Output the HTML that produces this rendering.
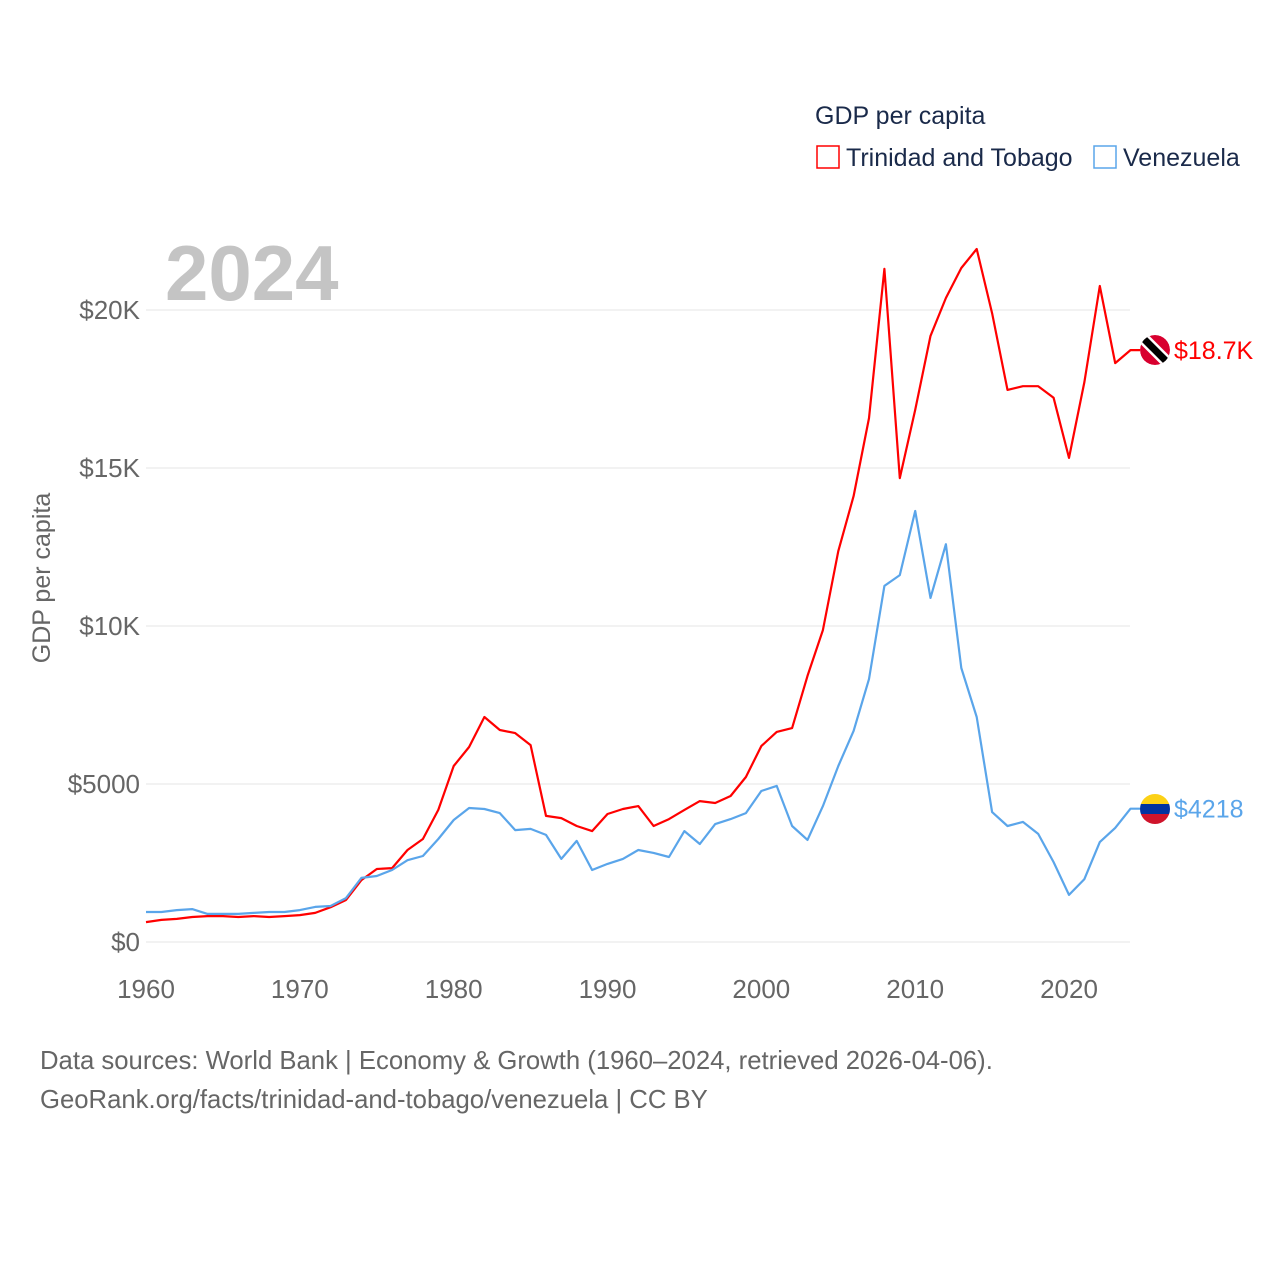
<!DOCTYPE html>
<html><head><meta charset="utf-8">
<style>
html,body{margin:0;padding:0;background:#fff;}
body{width:1280px;height:1280px;overflow:hidden;font-family:"Liberation Sans",sans-serif;}
svg text{font-family:"Liberation Sans",sans-serif;}
</style></head>
<body>
<svg id="chart" width="1280" height="1280" xmlns="http://www.w3.org/2000/svg">
<defs>
<clipPath id="c1"><circle cx="1155" cy="350" r="15"/></clipPath>
<clipPath id="c2"><circle cx="1155" cy="809" r="15"/></clipPath>
</defs>
<g id="grid"></g>
<g id="yticks"></g>
<g id="xticks"></g>
<text x="165" y="300" font-size="78" font-weight="bold" fill="#c4c4c4">2024</text>
<text transform="translate(50,578) rotate(-90)" text-anchor="middle" font-size="25" fill="#666">GDP per capita</text>
<g id="lines"></g>
<g clip-path="url(#c1)">
<circle cx="1155" cy="350" r="15" fill="#d8002f"/>
<line x1="1138" y1="333" x2="1172" y2="367" stroke="#fff" stroke-width="12"/>
<line x1="1138" y1="333" x2="1172" y2="367" stroke="#000" stroke-width="7"/>
</g>
<g clip-path="url(#c2)">
<rect x="1140" y="794" width="30" height="10" fill="#fcd116"/>
<rect x="1140" y="804" width="30" height="10" fill="#0033a0"/>
<rect x="1140" y="814" width="30" height="10" fill="#cf142b"/>
</g>
<g>
<text x="815" y="124" font-size="25" fill="#1a2a4a">GDP per capita</text>
<rect x="817" y="146" width="22" height="22" fill="none" stroke="#ff0000" stroke-width="1.5"/>
<text x="846" y="166" font-size="25" fill="#1a2a4a">Trinidad and Tobago</text>
<rect x="1094" y="146" width="22" height="22" fill="none" stroke="#5aa5ea" stroke-width="1.5"/>
<text x="1123" y="166" font-size="25" fill="#1a2a4a">Venezuela</text>
</g>
<text x="40" y="1069" font-size="25.7" fill="#666">Data sources: World Bank | Economy &amp; Growth (1960–2024, retrieved 2026-04-06).</text>
<text x="40" y="1108" font-size="25.7" fill="#666">GeoRank.org/facts/trinidad-and-tobago/venezuela | CC BY</text>
</svg>
<script>
const years = [];
for (let y = 1960; y <= 2024; y++) years.push(y);
const trinidad = [0.63,0.70,0.73,0.79,0.82,0.82,0.79,0.82,0.79,0.82,0.85,0.92,1.1,1.33,1.96,2.31,2.34,2.91,3.26,4.18,5.57,6.17,7.12,6.71,6.61,6.23,3.99,3.92,3.67,3.51,4.05,4.21,4.30,3.67,3.89,4.18,4.46,4.40,4.62,5.22,6.20,6.65,6.77,8.42,9.87,12.37,14.11,16.58,21.3,14.68,16.84,19.18,20.38,21.33,21.93,19.9,17.47,17.59,17.59,17.22,15.32,17.72,20.76,18.32,18.73];
const venezuela = [0.95,0.95,1.01,1.04,0.89,0.89,0.89,0.92,0.95,0.95,1.01,1.11,1.14,1.39,2.03,2.09,2.28,2.59,2.72,3.26,3.86,4.24,4.21,4.08,3.54,3.58,3.39,2.63,3.20,2.28,2.47,2.63,2.91,2.82,2.69,3.51,3.10,3.73,3.89,4.08,4.78,4.94,3.67,3.23,4.30,5.57,6.68,8.32,11.27,11.61,13.64,10.89,12.59,8.67,7.12,4.11,3.67,3.80,3.42,2.53,1.49,1.99,3.16,3.61,4.218];
const yTicks = [0,5,10,15,20];
const yTickLabels = ["$0","$5000","$10K","$15K","$20K"];
const xTicks = [1960,1970,1980,1990,2000,2010,2020];
const endLabels = ["$18.7K","$4218"];

const NS = "http://www.w3.org/2000/svg";
const xS = y => 146 + (y - 1960) * (923 / 60);
const yS = v => 942 - v * 31.6;
function mk(tag, attrs, parent) { const e = document.createElementNS(NS, tag); for (const k in attrs) e.setAttribute(k, attrs[k]); parent.appendChild(e); return e; }

const grid = document.getElementById('grid'), yt = document.getElementById('yticks'), xt = document.getElementById('xticks');
yTicks.forEach((v, i) => {
  const l = mk('line', {x1:146, x2:1130, y1:yS(v), y2:yS(v), stroke:'#e6e6e6', 'stroke-width':1}, grid);
  
  
  const t = mk('text', {x:140, y:yS(v)+9, 'text-anchor':'end', 'font-size':26, fill:'#666'}, yt);
  
  
  t.textContent = yTickLabels[i];
});
xTicks.forEach(y => {
  const t = mk('text', {x:xS(y), y:998, 'text-anchor':'middle', 'font-size':26, fill:'#666'}, xt);
  
  
  t.textContent = y;
});
const lines = document.getElementById('lines');
[[trinidad,'#ff0000','trinidad',0],[venezuela,'#5aa5ea','venezuela',1]].forEach(([d,c,n,i]) => {
  let p = d.map((v,j) => (j?'L':'M') + xS(years[j]).toFixed(1) + ' ' + yS(v).toFixed(1)).join(' ');
  const last = d[d.length-1];
  p += ' L 1140 ' + yS(last).toFixed(1);
  const path = mk('path', {d:p, fill:'none', stroke:c, 'stroke-width':2.2, 'stroke-linejoin':'round'}, lines);
  
  
  const t = mk('text', {x:1174, y:yS(last)+9, 'font-size':25, fill:c}, lines);
  
  
  t.textContent = endLabels[i];
});
</script>
</body></html>
